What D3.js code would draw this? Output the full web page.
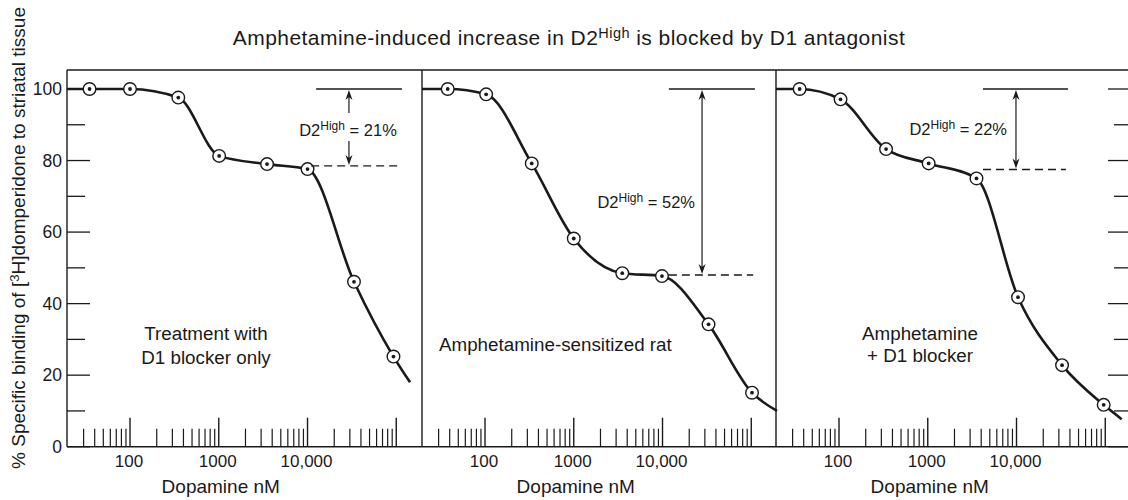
<!DOCTYPE html>
<html><head><meta charset="utf-8">
<script src="https://cdn.jsdelivr.net/npm/d3@7"></script>
<style>
body{margin:0;background:#fff}
svg{display:block}
text{font-family:"Liberation Sans",Arial,Helvetica,sans-serif;fill:#1a1a1a}
</style>
</head><body>
<svg id="c" width="1128" height="500"></svg>
<script>
// ---------- data ----------
const panelLabels = [["Treatment with", "D1 blocker only"], ["Amphetamine-sensitized rat"], ["Amphetamine", "+ D1 blocker"]];
const dose1 = [35, 100, 350, 1010, 3500, 10000, 33400, 93000];
const bind1 = [100, 100, 97.6, 81.3, 79.0, 77.6, 46.1, 25.2];
const dose2 = [38, 103, 336, 1000, 3520, 9860, 33000, 102000];
const bind2 = [100, 98.5, 79.2, 58.2, 48.5, 47.7, 34.2, 15.1];
const dose3 = [36, 104, 339, 1023, 3540, 10400, 32600, 96000];
const bind3 = [100, 97.1, 83.2, 79.2, 75.0, 41.8, 22.8, 11.7];
const curveHeadBind = [100, 100, 100];
const curveTailDose = [143000, 195000, 153000];
const curveTailBind = [18, 10, 7.7];
const d2High = [21, 52, 22];
const plateau = [78.5, 48, 77.5];
const xTickValues = [100, 1000, 10000];
const xTickLabels = ["100", "1000", "10,000"];
const yTickValues = [0, 20, 40, 60, 80, 100];
const yTickLabels = ["0", "20", "40", "60", "80", "100"];
const titleParts = ["Amphetamine-induced increase in D2", "High", " is blocked by D1 antagonist"];
const yTitleParts = ["% Specific binding of [", "3", "H]domperidone to striatal tissue"];
const xTitle = "Dopamine nM";

// ---------- layout ----------
const W = 1128, H = 500;
const frameTop = 70, frameBottom = 446.7;
const panelLeft = [67, 422, 776];
const panelW = 355;
const logMin = 1.29, logMax = 5.29;
const annot = [
  {solid: [12500, 116000], dash: [11000, 112000], arrowX: 29300, label: {x: 348, y: 136, anchor: "middle"}, gap: [113, 141]},
  {solid: [11800, 110000], dash: [11800, 105000], arrowX: 27900, label: {x: 695, y: 208, anchor: "end"}, gap: null},
  {solid: [4190, 38000], dash: [4190, 36000], arrowX: 9860, label: {x: 1007, y: 135, anchor: "end"}, gap: null}
];
const labelPos = [
  {x: 206, y: [340, 363.5], anchor: "middle"},
  {x: 439, y: [350.5], anchor: "start"},
  {x: 920, y: [340, 362], anchor: "middle"}
];

const svg = d3.select("#c");
const ink = "#1a1a1a";

const y = d3.scaleLinear().domain([0, 100]).range([frameBottom, 89]);

function fitWidth(sel, target) {
  const node = sel.node();
  const len = node.getComputedTextLength();
  const n = node.textContent.length;
  if (n > 1) sel.style("letter-spacing", ((target - len) / (n - 1)) + "px");
}

// Title
const title = svg.append("text").attr("x", 569).attr("y", 45)
  .attr("text-anchor", "middle").style("font-size", "21px");
title.append("tspan").text(titleParts[0]);
title.append("tspan").attr("dy", -7.5).style("font-size", "14.5px").text(titleParts[1]);
title.append("tspan").attr("dy", 7.5).text(titleParts[2]);
fitWidth(title, 672);

// Y axis title
const yt = svg.append("text").attr("transform", "translate(25,238) rotate(-90)")
  .attr("text-anchor", "middle").style("font-size", "19px");
yt.append("tspan").text(yTitleParts[0]);
yt.append("tspan").attr("dy", -6.5).style("font-size", "13px").text(yTitleParts[1]);
yt.append("tspan").attr("dy", 6.5).text(yTitleParts[2]);
fitWidth(yt, 462);

// frame
svg.append("line").attr("x1", panelLeft[0]).attr("x2", W).attr("y1", frameTop).attr("y2", frameTop)
  .attr("stroke", ink).attr("stroke-width", 1.3);
svg.append("line").attr("x1", panelLeft[0]).attr("x2", W).attr("y1", frameBottom).attr("y2", frameBottom)
  .attr("stroke", ink).attr("stroke-width", 1.6);
panelLeft.forEach(px => {
  svg.append("line").attr("x1", px).attr("x2", px).attr("y1", frameTop).attr("y2", frameBottom)
    .attr("stroke", ink).attr("stroke-width", 1.4);
});

// left y axis ticks
const yAll = d3.range(0, 101, 10);
const ly = svg.append("g");
ly.selectAll("line").data(yAll).join("line")
  .attr("x1", panelLeft[0]).attr("x2", d => panelLeft[0] + (d % 20 === 0 ? 23 : 18))
  .attr("y1", d => y(d)).attr("y2", d => y(d)).attr("stroke", ink).attr("stroke-width", 1.3);
ly.selectAll("text").data(yTickValues).join("text")
  .attr("x", 62).attr("y", d => y(d)).attr("dy", "0.36em").attr("text-anchor", "end")
  .style("font-size", "17.5px").text((d, i) => yTickLabels[i]);
// right y axis ticks
svg.append("g").selectAll("line").data(yAll).join("line")
  .attr("x1", d => W - (d % 20 === 0 ? 20 : 14)).attr("x2", W)
  .attr("y1", d => y(d)).attr("y2", d => y(d)).attr("stroke", ink).attr("stroke-width", 1.3);

const doses = [dose1, dose2, dose3];
const binds = [bind1, bind2, bind3];

panelLeft.forEach((px, p) => {
  const x = d3.scaleLog().domain([Math.pow(10, logMin), Math.pow(10, logMax)]).range([px, px + panelW]);
  const g = svg.append("g");

  const minor = [], major = [];
  for (let e = 1; e <= 5; e++) {
    for (let m = 1; m <= 9; m++) {
      const v = m * Math.pow(10, e);
      const lv = Math.log10(v);
      if (lv <= logMin + 0.02 || lv >= logMax) continue;
      (m === 1 ? major : minor).push(v);
    }
  }
  g.selectAll("line.mn").data(minor).join("line").attr("class", "mn")
    .attr("x1", d => x(d)).attr("x2", d => x(d)).attr("y1", frameBottom).attr("y2", frameBottom - 18)
    .attr("stroke", ink).attr("stroke-width", 1.2);
  g.selectAll("line.mj").data(major).join("line").attr("class", "mj")
    .attr("x1", d => x(d)).attr("x2", d => x(d)).attr("y1", frameBottom).attr("y2", frameBottom - 29)
    .attr("stroke", ink).attr("stroke-width", 1.4);
  g.selectAll("text.xt").data(xTickValues).join("text").attr("class", "xt")
    .attr("x", d => x(d) - 1).attr("y", 467).attr("text-anchor", "middle")
    .style("font-size", "17px").text((d, i) => xTickLabels[i]);
  g.append("text").attr("x", x(1000) + 2).attr("y", 493).attr("text-anchor", "middle")
    .style("font-size", "19px").text(xTitle);

  const cd = [Math.pow(10, logMin)].concat(doses[p], [curveTailDose[p]]);
  const cb = [curveHeadBind[p]].concat(binds[p], [curveTailBind[p]]);
  const pts = cd.map((d, i) => [d, cb[i]]);
  const line = d3.line().x(d => x(d[0])).y(d => y(d[1])).curve(d3.curveMonotoneX);
  g.append("path").attr("d", line(pts)).attr("fill", "none").attr("stroke", ink)
    .attr("stroke-width", 2.6).attr("stroke-linejoin", "round");

  const mk = doses[p].map((d, i) => [d, binds[p][i]]);
  g.selectAll("circle.o").data(mk).join("circle").attr("class", "o")
    .attr("cx", d => x(d[0])).attr("cy", d => y(d[1])).attr("r", 6.3)
    .attr("fill", "#fff").attr("stroke", ink).attr("stroke-width", 1.4);
  g.selectAll("circle.i").data(mk).join("circle").attr("class", "i")
    .attr("cx", d => x(d[0])).attr("cy", d => y(d[1])).attr("r", 1.9).attr("fill", ink);

  const a = annot[p];
  g.append("line").attr("x1", x(a.solid[0])).attr("x2", x(a.solid[1]))
    .attr("y1", y(100)).attr("y2", y(100)).attr("stroke", ink).attr("stroke-width", 1.4);
  g.append("line").attr("x1", x(a.dash[0])).attr("x2", x(a.dash[1]))
    .attr("y1", y(plateau[p])).attr("y2", y(plateau[p])).attr("stroke", ink)
    .attr("stroke-width", 1.3).attr("stroke-dasharray", "8,5");
  const ax = x(a.arrowX);
  const y0 = y(100), y1 = y(plateau[p]);
  if (a.gap) {
    g.append("line").attr("x1", ax).attr("x2", ax).attr("y1", y0 + 6).attr("y2", a.gap[0]).attr("stroke", ink).attr("stroke-width", 1.2);
    g.append("line").attr("x1", ax).attr("x2", ax).attr("y1", a.gap[1]).attr("y2", y1 - 6).attr("stroke", ink).attr("stroke-width", 1.2);
  } else {
    g.append("line").attr("x1", ax).attr("x2", ax).attr("y1", y0 + 6).attr("y2", y1 - 6).attr("stroke", ink).attr("stroke-width", 1.2);
  }
  g.append("path").attr("d", `M${ax},${y0 + 1}L${ax - 3.5},${y0 + 11}L${ax},${y0 + 8}L${ax + 3.5},${y0 + 11}Z`).attr("fill", ink);
  g.append("path").attr("d", `M${ax},${y1 - 1}L${ax - 3.5},${y1 - 11}L${ax},${y1 - 8}L${ax + 3.5},${y1 - 11}Z`).attr("fill", ink);
  const lt = g.append("text").attr("x", a.label.x).attr("y", a.label.y)
    .attr("text-anchor", a.label.anchor).style("font-size", "16.5px");
  lt.append("tspan").text("D2");
  lt.append("tspan").attr("dy", -6.5).style("font-size", "12px").text("High");
  lt.append("tspan").attr("dy", 6.5).text(" = " + d2High[p] + "%");

  const lp = labelPos[p];
  panelLabels[p].forEach((s, i) => {
    g.append("text").attr("x", lp.x).attr("y", lp.y[i]).attr("text-anchor", lp.anchor)
      .style("font-size", "18.8px").text(s);
  });
});
</script>
</body></html>
